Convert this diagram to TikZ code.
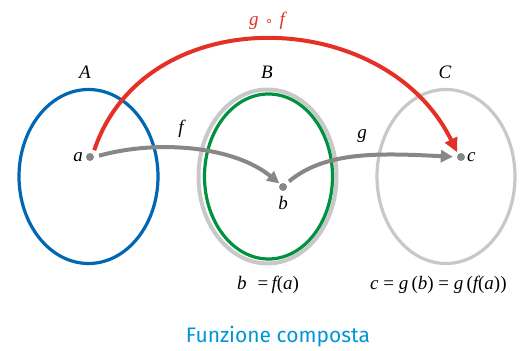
\documentclass[tikz,border=0pt]{standalone}
\usepackage{fontspec}
\setmainfont{Liberation Serif}
\newfontfamily\handfont{Fira Sans}
\newfontfamily\symfont{DejaVu Sans}
\usetikzlibrary{arrows.meta,shapes.geometric}
\definecolor{setblue}{RGB}{0,104,178}
\definecolor{setgreen}{RGB}{0,146,63}
\definecolor{setgray}{RGB}{200,200,200}
\definecolor{arrgray}{RGB}{135,135,135}
\definecolor{redarr}{RGB}{228,48,38}
\definecolor{titleblue}{RGB}{0,150,214}
\newcommand{\up}[1]{{\upshape #1}}
\tikzset{
  setell/.style={ellipse, draw, line width=3.2pt, inner sep=0pt},
  dot/.style={circle, fill=arrgray, minimum size=8pt, inner sep=0pt},
  lbl/.style={font=\fontsize{19}{22}\selectfont\itshape, inner sep=1pt},
  maparrow/.style={draw=arrgray, line width=4pt, -{Triangle[length=12pt,width=12pt]}},
  comparrow/.style={draw=redarr, line width=4pt, -{Triangle[length=14pt,width=13pt]}},
}
\begin{document}
\begin{tikzpicture}[x=1pt,y=1pt]
\useasboundingbox (0,0) rectangle (528,351);
% sets
\node[setell, draw=setblue, minimum width=139pt, minimum height=174pt] (A) at (88.5,174.5) {};
\node[setell, draw=setgray, line width=4pt, minimum width=138pt, minimum height=174pt] (Bo) at (267.5,174.5) {};
\node[setell, draw=setgreen, minimum width=128pt, minimum height=165pt] (B) at (268.5,174.5) {};
\node[setell, draw=setgray, minimum width=138pt, minimum height=174pt] (C) at (446,174.5) {};
% set labels
\node[lbl] (lA) at (85,279) {A};
\node[lbl] (lB) at (267,279) {B};
\node[lbl] (lC) at (445,279) {C};
% points
\node[dot] (a) at (90,194) {};
\node[dot] (b) at (283,164) {};
\node[dot] (c) at (461,194) {};
\node[lbl, anchor=east] (la) at (84,194) {a};
\node[lbl] (lb) at (283,148) {b};
\node[lbl, anchor=west] (lc) at (466,194) {c};
% arrows
\draw[maparrow, shorten <=5pt, shorten >=1pt] (a.east) .. controls (160,212) and (235,204) .. (b.north west);
\draw[maparrow, shorten <=4pt, shorten >=4pt] (b.north east) .. controls (325,200) and (380,198) .. (c.west);
\draw[comparrow, shorten <=4pt, shorten >=2pt] (a.north east) .. controls (145,352) and (385,346) .. (c.north west);
% arrow labels
\node[lbl] (lf) at (181,222) {f};
\node[lbl] (lg) at (362,215) {g};
\node[lbl, text=redarr] (lgf) at (267,330) {g\,\,{\upshape\fontsize{13}{15}\selectfont\symfont ∘}\,\,f};
% formulas
\node[lbl] (eq1) at (268,66) {b\,\, \up{=}\,f\up{(}a\up{)}};
\node[lbl, anchor=west] (eq2) at (369,66) {c \up{=} g\,\up{(}b\up{)} \up{=} g\,\up{(}f\up{(}a\up{))}};
% title
\node[font=\handfont\fontsize{21}{24}\selectfont, text=titleblue] (title) at (278,14) {Funzione composta};
\end{tikzpicture}
\end{document}
